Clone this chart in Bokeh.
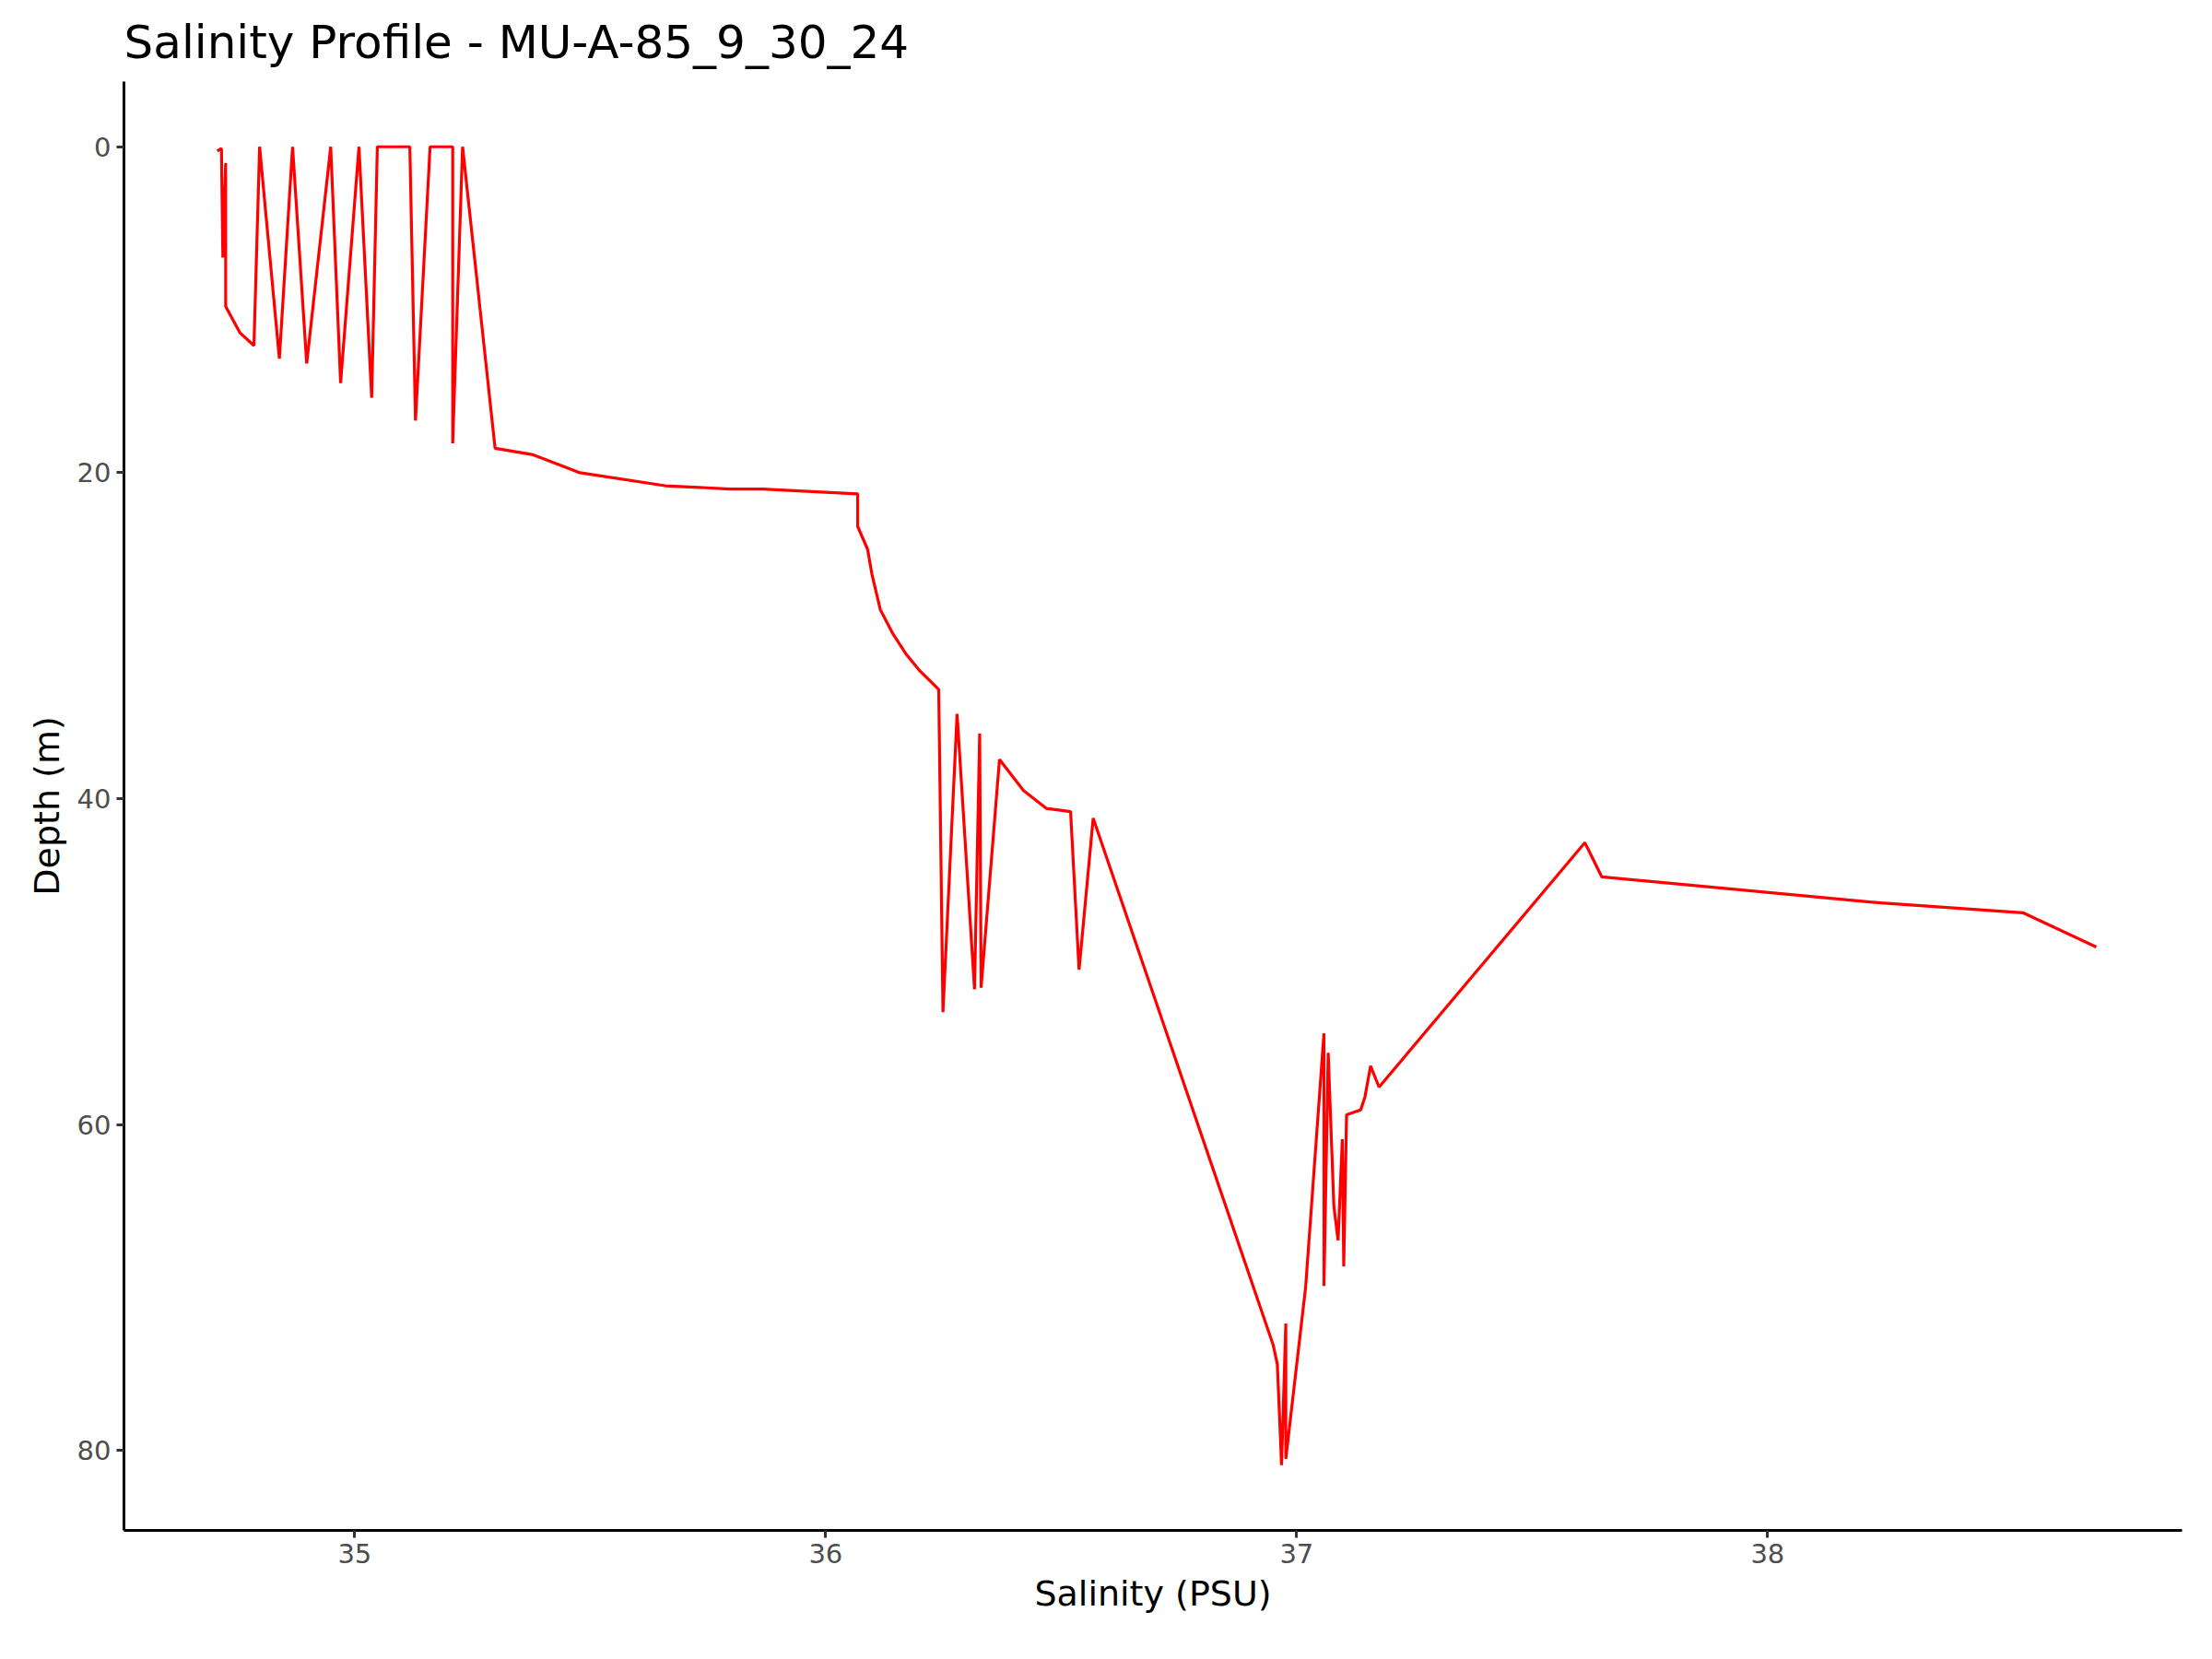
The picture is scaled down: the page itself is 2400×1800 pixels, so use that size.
from bokeh.plotting import figure
from bokeh.models import Range1d, FixedTicker
from bokeh.embed import file_html
from bokeh.resources import INLINE

salinity = [34.708, 34.717, 34.720, 34.726, 34.726, 34.756, 34.786, 34.798, 34.840, 34.868,
            34.898, 34.949, 34.970, 35.009, 35.036, 35.048, 35.117, 35.129, 35.160, 35.208,
            35.208, 35.229, 35.298, 35.379, 35.478, 35.659, 35.731, 35.797, 35.867, 35.933,
            36.068, 36.068, 36.089, 36.098, 36.116, 36.143, 36.170, 36.198, 36.240, 36.249,
            36.279, 36.316, 36.327, 36.330, 36.369, 36.420, 36.469, 36.520, 36.538, 36.568,
            36.950, 36.959, 36.968, 36.977, 36.977, 37.019, 37.058, 37.058, 37.067, 37.079,
            37.088, 37.097, 37.100, 37.106, 37.136, 37.145, 37.157, 37.175, 37.612, 37.648,
            38.241, 38.542, 38.698]
depth = [0.26, 0.1, 6.8, 1.0, 9.8, 11.4, 12.2, 0.0, 13.0, 0.0,
         13.3, 0.0, 14.5, 0.0, 15.4, 0.0, 0.0, 16.8, 0.0, 0.0,
         18.2, 0.0, 18.5, 18.9, 20.0, 20.8, 20.9, 21.0, 21.0, 21.1,
         21.3, 23.3, 24.7, 26.2, 28.4, 29.9, 31.1, 32.1, 33.3, 53.1,
         34.8, 51.7, 36.0, 51.6, 37.6, 39.5, 40.6, 40.8, 50.5, 41.2,
         73.5, 74.7, 80.9, 72.2, 80.5, 70.0, 54.4, 69.9, 55.6, 65.0,
         67.1, 60.9, 68.7, 59.4, 59.1, 58.3, 56.4, 57.7, 42.7, 44.8,
         46.4, 47.0, 49.1]

x_ticks = [35, 36, 37, 38]
y_ticks = [0, 20, 40, 60, 80]

p = figure(frame_width=2233, frame_height=1572, output_backend="svg", toolbar_location=None,
           title="Salinity Profile - MU-A-85_9_30_24",
           x_range=Range1d(34.51, 38.88), y_range=Range1d(84.9, -4.0),
           min_border_left=134, min_border_right=17, min_border_top=20, min_border_bottom=20)
p.line(salinity, depth, line_color="red", line_width=3.2)

p.title.text_font = "DejaVu Sans"
p.title.text_font_size = "50px"
p.title.text_font_style = "normal"
p.title.text_color = "black"
p.title.offset = 0
p.title.standoff = 28

p.xgrid.visible = False
p.ygrid.visible = False
p.outline_line_color = None

for ax, ticks, label in [(p.xaxis, x_ticks, "Salinity (PSU)"), (p.yaxis, y_ticks, "Depth (m)")]:
    ax.ticker = FixedTicker(ticks=ticks)
    ax.axis_label = label
    ax.axis_label_text_font = "DejaVu Sans"
    ax.axis_label_text_font_size = "38px"
    ax.axis_label_text_font_style = "normal"
    ax.axis_label_text_color = "black"
    ax.major_label_text_font = "DejaVu Sans"
    ax.major_label_text_font_size = "29px"
    ax.major_label_text_color = "#4d4d4d"
    ax.axis_line_width = 3
    ax.axis_line_color = "black"
    ax.major_tick_line_color = "#333333"
    ax.major_tick_line_width = 3
    ax.major_tick_out = 8
    ax.major_tick_in = 0
    ax.minor_tick_line_color = None
    ax.axis_label_standoff = 8
    ax.major_label_standoff = 6

open("out.html", "w").write(file_html(p, INLINE))
